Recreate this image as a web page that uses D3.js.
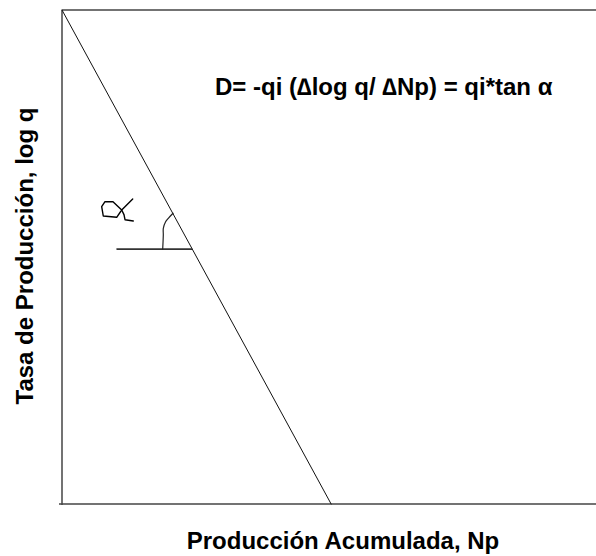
<!DOCTYPE html>
<html>
<head>
<meta charset="utf-8">
<script src="https://cdn.jsdelivr.net/npm/d3@7"></script>
<style>
  body { margin: 0; background: #fff; }
  text { font-family: "Liberation Sans", Arial, sans-serif; font-weight: bold; fill: #000; }
</style>
</head>
<body>
<div id="chart"></div>
<script>
// recta de declinación: Np (%) vs log q (%)
const npValues = [0, 50.4];
const logqValues = [100, 0];
// línea horizontal de referencia para el ángulo alfa
const refNp = [10.3, 24.3];
const refLogq = [51.6, 51.6];
// arco del ángulo, trazado a mano
const arcNp = [18.86, 18.97, 18.97, 19.38, 19.91, 20.79];
const arcLogq = [51.62, 54.45, 55.81, 57.09, 57.83, 58.85];
// letra alfa manuscrita (dos trazos)
const alphaNp1 = [11.18, 10.24, 7.73, 7.43, 8.05, 9.55, 11.18, 13.24];
const alphaLogq1 = [59.51, 58.04, 58.30, 60.18, 61.19, 61.19, 59.51, 61.74];
const alphaNp2 = [11.18, 11.61, 11.80, 13.35];
const alphaLogq2 = [59.51, 58.58, 57.55, 57.29];

const xLabel = "Producción Acumulada, Np";
const yLabel = "Tasa de Producción, log q";
const equation = "D= -qi (\u2206log q/ \u2206Np) = qi*tan \u03b1";

const W = 596, H = 556;
const margin = { top: 10, right: 0, bottom: 52, left: 62 };
const width = W - margin.left - margin.right;
const height = H - margin.top - margin.bottom;

const svg = d3.select("#chart").append("svg")
    .attr("width", W)
    .attr("height", H);

const g = svg.append("g")
    .attr("transform", `translate(${margin.left},${margin.top})`);

const x = d3.scaleLinear().domain([0, 100]).range([0, width]);
const y = d3.scaleLinear().domain([0, 100]).range([height, 0]);

// marco: arriba, izquierda, abajo
g.append("line").attr("x1", 0).attr("x2", width).attr("y1", 0).attr("y2", 0)
    .attr("stroke", "#444").attr("stroke-width", 1.5);
g.append("line").attr("x1", 0).attr("x2", 0).attr("y1", 0).attr("y2", height + 1)
    .attr("stroke", "#444").attr("stroke-width", 1.5);
g.append("line").attr("x1", -3).attr("x2", width).attr("y1", height).attr("y2", height)
    .attr("stroke", "#444").attr("stroke-width", 1.5);

const line = d3.line().x(d => x(d[0])).y(d => y(d[1]));
const pairs = (a, b) => a.map((v, i) => [v, b[i]]);

function draw(pts, color, w, curve) {
    g.append("path")
        .datum(pts)
        .attr("d", line.curve(curve || d3.curveLinear))
        .attr("fill", "none")
        .attr("stroke", color)
        .attr("stroke-width", w)
        .attr("stroke-linejoin", "round")
        .attr("stroke-linecap", "round");
}

draw(pairs(npValues, logqValues), "#111", 1);
draw(pairs(refNp, refLogq), "#333", 1.6);
draw(pairs(arcNp, arcLogq), "#222", 1.2, d3.curveCatmullRom);
draw(pairs(alphaNp1, alphaLogq1), "#000", 1.4);
draw(pairs(alphaNp2, alphaLogq2), "#000", 1.4);

g.append("text")
    .attr("x", 215 - margin.left)
    .attr("y", 95 - margin.top)
    .attr("font-size", 24)
    .text(equation);

svg.append("text")
    .attr("x", 343)
    .attr("y", 549)
    .attr("text-anchor", "middle")
    .attr("font-size", 24)
    .text(xLabel);

svg.append("text")
    .attr("transform", `translate(33,256) rotate(-90)`)
    .attr("text-anchor", "middle")
    .attr("font-size", 24)
    .text(yLabel);
</script>
</body>
</html>
